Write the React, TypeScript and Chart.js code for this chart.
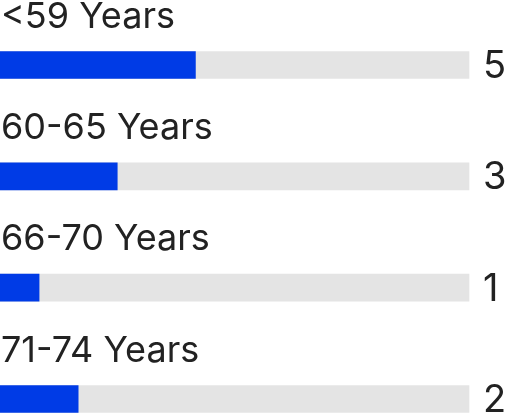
import { Chart, registerables } from 'chart.js';
import { useEffect, useRef } from 'react';

Chart.register(...registerables);

const categories = ['<59 Years', '60-65 Years', '66-70 Years', '71-74 Years'];
const counts = [5, 3, 1, 2];
const maxCount = 12;

const BLUE = '#003be6';
const TRACK = '#e4e4e4';
const TEXT = '#222222';
const FONT = 'Inter, "Noto Sans", sans-serif';

const App = () => {
  const chartRef = useRef<HTMLCanvasElement | null>(null);

  useEffect(() => {
    document.body.style.margin = '0';
    if (!chartRef.current) return;
    const ctx = chartRef.current.getContext('2d');
    if (!ctx) return;

    // labels above each bar and the count to the right of the track
    const textPlugin = {
      id: 'barText',
      afterDatasetsDraw: (chart: Chart) => {
        const c = chart.ctx;
        const x = chart.scales.x;
        const y = chart.scales.y;
        c.save();
        c.fillStyle = TEXT;
        categories.forEach((label, i) => {
          const yc = y.getPixelForValue(i);
          c.textAlign = 'left';
          c.textBaseline = 'alphabetic';
          c.font = `36px ${FONT}`;
          c.fillText(label, x.getPixelForValue(0) + 1, yc - 13.5 - 24);
          c.font = `38px ${FONT}`;
          c.fillText(String(counts[i]), x.getPixelForValue(maxCount) + 14, yc + 13);
        });
        c.restore();
      },
    };

    const chartInstance = new Chart(ctx, {
      type: 'bar',
      data: {
        labels: categories,
        datasets: [
          {
            data: counts,
            backgroundColor: BLUE,
            barThickness: 27,
            grouped: false,
            order: 0,
            clip: false,
          },
          {
            data: categories.map(() => maxCount),
            backgroundColor: TRACK,
            barThickness: 27,
            grouped: false,
            order: 1,
            clip: false,
          },
        ],
      },
      options: {
        indexAxis: 'y',
        animation: false,
        responsive: true,
        maintainAspectRatio: false,
        layout: { padding: { top: 65, bottom: 14, left: 0, right: 38 } },
        scales: {
          x: { display: false, min: 0, max: maxCount },
          y: { display: false, offset: false },
        },
        plugins: {
          legend: { display: false },
          tooltip: { enabled: false },
        },
      },
      plugins: [textPlugin],
    });

    return () => {
      chartInstance.destroy();
    };
  }, []);

  return (
    <div style={{ width: 507, height: 413, position: 'relative' }}>
      <canvas ref={chartRef}></canvas>
    </div>
  );
};

export default App;
